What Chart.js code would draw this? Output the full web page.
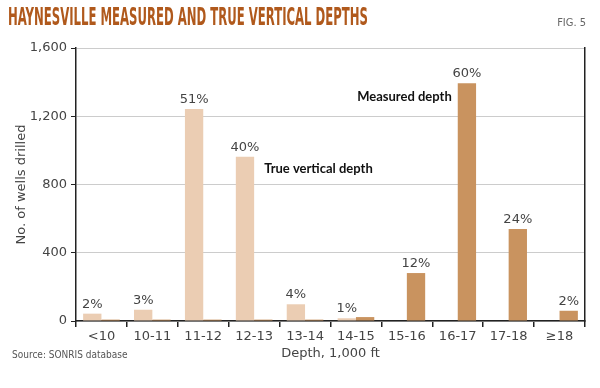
<!DOCTYPE html>
<html>
<head>
<meta charset="utf-8">
<script src="https://cdn.jsdelivr.net/npm/chart.js@4/dist/chart.umd.min.js"></script>
<style>
html,body{margin:0;padding:0;background:#fff;}
#wrap{width:600px;height:388px;position:relative;}
</style>
</head>
<body>
<div id="wrap"><canvas id="c" width="600" height="388"></canvas></div>
<script>
const categories = ['<10','10-11','11-12','12-13','13-14','14-15','15-16','16-17','17-18','\u226518'];
const trueVertical = [43, 66, 1242, 963, 98, 16, 3, 3, 3, 0];
const measured = [8, 8, 8, 8, 8, 23, 281, 1393, 539, 60];
const tvdLabels = ['2%','3%','51%','40%','4%','1%','','','',''];
const mdLabels = ['','','','','','','12%','60%','24%','2%'];
const yTicks = [0, 400, 800, 1200, 1600];

const tvdColor = '#ebcdb3';
const mdColor = '#c9935f';
const tickFont = {family: "'DejaVu Sans'", size: 13, weight: 'normal'};

const overlay = {
  id: 'overlay',
  afterDatasetsDraw(chart) {
    const ctx = chart.ctx;
    const labelSets = [tvdLabels, mdLabels];
    ctx.save();
    ctx.fillStyle = '#444';
    ctx.font = "13px 'DejaVu Sans'";
    ctx.textAlign = 'center';
    ctx.textBaseline = 'bottom';
    labelSets.forEach((labels, di) => {
      const meta = chart.getDatasetMeta(di);
      meta.data.forEach((el, i) => {
        if (labels[i]) ctx.fillText(labels[i], el.x, el.y - 3);
      });
    });
    ctx.fillStyle = '#111';
    ctx.font = "bold 13px Lato";
    ctx.textBaseline = 'middle';
    const t = chart.getDatasetMeta(0).data[3];
    ctx.textAlign = 'left';
    ctx.fillText('True vertical depth', t.x + t.width / 2 + 10, t.y + 12);
    const m = chart.getDatasetMeta(1).data[7];
    ctx.textAlign = 'right';
    ctx.fillText('Measured depth', m.x - m.width / 2 - 6, m.y + 13);
    ctx.restore();
  },
  afterDraw(chart) {
    const ctx = chart.ctx;
    ctx.save();
    ctx.fillStyle = '#b0591c';
    ctx.font = "bold 24px 'Liberation Sans Narrow', 'DejaVu Sans Condensed'";
    ctx.textBaseline = 'alphabetic';
    ctx.textAlign = 'left';
    const title = 'HAYNESVILLE MEASURED AND TRUE VERTICAL DEPTHS';
    const w = ctx.measureText(title).width;
    ctx.translate(8, 25);
    ctx.scale(360 / w, 1);
    ctx.fillText(title, 0, 0);
    ctx.restore();
    ctx.save();
    ctx.fillStyle = '#666';
    ctx.font = "11px 'Liberation Sans Narrow', 'DejaVu Sans Condensed'";
    ctx.textAlign = 'right';
    ctx.fillText('FIG. 5', 586, 26);
    ctx.textAlign = 'left';
    ctx.fillStyle = '#555';
    ctx.font = "10px 'Liberation Sans Narrow', 'DejaVu Sans Condensed'";
    ctx.fillText('Source: SONRIS database', 12, 358);
    ctx.restore();
  }
};

new Chart(document.getElementById('c'), {
  type: 'bar',
  data: {
    labels: categories,
    datasets: [
      {label: 'True vertical depth', data: trueVertical, backgroundColor: tvdColor, categoryPercentage: 0.72, barPercentage: 1.0},
      {label: 'Measured depth', data: measured, backgroundColor: mdColor, categoryPercentage: 0.72, barPercentage: 1.0}
    ]
  },
  options: {
    responsive: false,
    animation: false,
    devicePixelRatio: 1,
    layout: {padding: {top: 48, right: 15, bottom: 20, left: 0}},
    plugins: {legend: {display: false}, tooltip: {enabled: false}, title: {display: false}},
    scales: {
      x: {
        grid: {display: true, drawOnChartArea: false, offset: true, tickLength: 6, tickColor: '#222', lineWidth: 1.5},
        border: {display: true, color: '#222', width: 1.5},
        ticks: {color: '#444', font: tickFont, padding: 2, maxRotation: 0, autoSkip: false},
        title: {display: true, text: 'Depth, 1,000 ft', color: '#444', font: tickFont, padding: {top: 0, bottom: 7}},
        afterFit(s) { s.height = 47; }
      },
      y: {
        min: 0, max: 1600,
        afterBuildTicks(s) { s.ticks = yTicks.map(v => ({value: v})); },
        grid: {color: '#cccccc', lineWidth: 1, tickLength: 5, tickColor: '#222', drawTicks: true},
        border: {display: true, color: '#222', width: 1.5},
        ticks: {color: '#444', font: tickFont, padding: 4, callback: v => v.toLocaleString('en-US')},
        title: {display: true, text: 'No. of wells drilled', color: '#444', font: tickFont, padding: {top: 14, bottom: 6}},
        afterFit(s) { s.width = 76; }
      },
      y2: {
        position: 'right', min: 0, max: 1600,
        grid: {display: false, drawOnChartArea: false},
        border: {display: true, color: '#222', width: 1.5},
        ticks: {display: false},
        afterFit(s) { s.width = 0; }
      }
    }
  },
  plugins: [overlay]
});
</script>
</body>
</html>
